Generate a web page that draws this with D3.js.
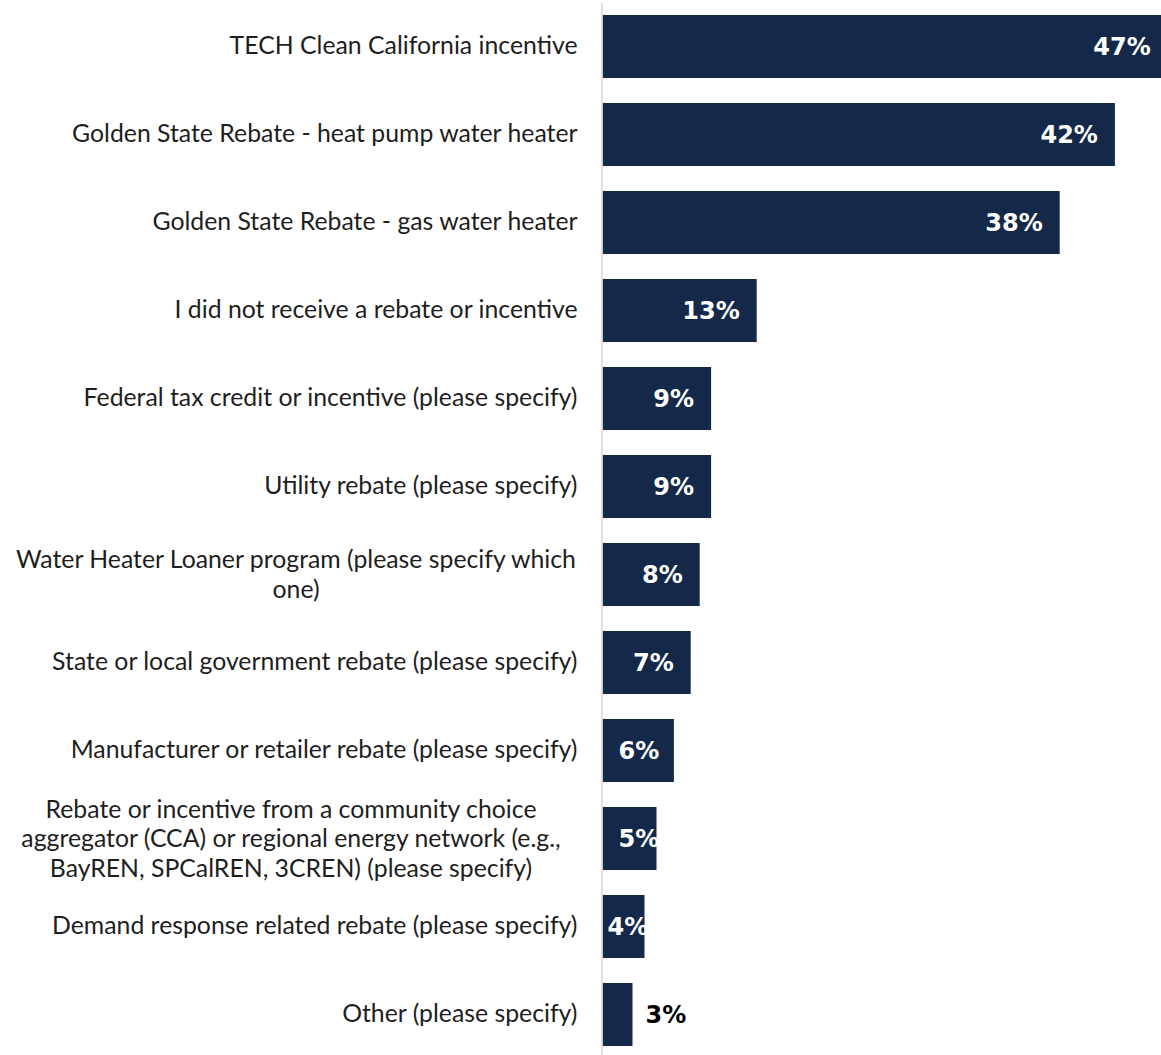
<!DOCTYPE html>
<html>
<head>
<meta charset="utf-8">
<script src="https://cdn.jsdelivr.net/npm/d3@7"></script>
<style>
  html, body { margin: 0; padding: 0; background: #fff; }
  svg { display: block; }
</style>
</head>
<body>
<svg id="chart" width="1161" height="1055"></svg>
<script>
// ---- data ----
const categories = [
  "TECH Clean California incentive",
  "Golden State Rebate - heat pump water heater",
  "Golden State Rebate - gas water heater",
  "I did not receive a rebate or incentive",
  "Federal tax credit or incentive (please specify)",
  "Utility rebate (please specify)",
  "Water Heater Loaner program (please specify which\none)",
  "State or local government rebate (please specify)",
  "Manufacturer or retailer rebate (please specify)",
  "Rebate or incentive from a community choice\naggregator (CCA) or regional energy network (e.g.,\nBayREN, SPCalREN, 3CREN) (please specify)",
  "Demand response related rebate (please specify)",
  "Other (please specify)"
];
const values = [47.1, 42.7, 38.1, 12.85, 9.05, 9.05, 8.1, 7.35, 5.95, 4.5, 3.5, 2.5];
const valueLabels = ["47%", "42%", "38%", "13%", "9%", "9%", "8%", "7%", "6%", "5%", "4%", "3%"];

// ---- layout ----
const svg = d3.select("#chart");
const axisX = 601.5;
const barX0 = 602.5;

const y = d3.scaleBand()
  .domain(categories)
  .range([2.5, 1058.5])
  .paddingInner(0.284)
  .paddingOuter(0.142);

const x = d3.scaleLinear().domain([0, 50]).range([barX0, barX0 + 600]);

const rows = categories.map((c, i) => ({ cat: c, v: values[i], lab: valueLabels[i] }));

// bars
svg.append("g").selectAll("rect").data(rows).join("rect")
  .attr("x", x(0))
  .attr("y", d => y(d.cat))
  .attr("width", d => x(d.v) - x(0))
  .attr("height", y.bandwidth())
  .attr("fill", "#142949");

// axis with category labels
const axis = svg.append("g")
  .attr("transform", `translate(${axisX},0)`)
  .call(d3.axisLeft(y).tickSize(0).tickPadding(24));
axis.select(".domain").attr("stroke", "#d9d9d9").attr("stroke-width", 1.6);
axis.selectAll(".tick text")
  .attr("font-family", "Lato, 'Open Sans', sans-serif")
  .attr("font-size", 24.8)
  .attr("fill", "#1e1e1e")
  .each(function(d) {
    const lines = d.split("\n");
    const t = d3.select(this);
    if (lines.length === 1) return;
    t.text(null).attr("text-anchor", "middle").attr("x", 296 - axisX).attr("dy", null);
    const lh = 29.5;
    const start = -(lines.length - 1) * lh / 2;
    lines.forEach((ln, k) => {
      t.append("tspan").attr("x", (lines.length > 2 ? 291 : 296) - axisX)
        .attr("y", start + k * lh)
        .attr("dy", "0.35em")
        .text(ln);
    });
  });

// value labels
const lg = svg.append("g")
  .attr("font-family", "'DejaVu Sans', sans-serif")
  .attr("font-weight", "bold")
  .attr("font-size", 24);
lg.selectAll("text").data(rows).join("text")
  .attr("y", d => y(d.cat) + y.bandwidth() / 2)
  .attr("dy", "0.36em")
  .text(d => d.lab)
  .each(function(d) {
    const t = d3.select(this);
    const tw = this.getComputedTextLength();
    const bw = x(d.v) - x(0);
    const end = x(d.v);
    if (bw < tw) {
      t.attr("x", end + 13).attr("fill", "#000");
    } else {
      let sx = Math.max(end - 17 - tw, x(0) + 16);
      if (sx + tw > end + 12) sx = x(0) + 5;
      t.attr("x", sx).attr("fill", "#fff");
    }
  });
</script>
</body>
</html>
